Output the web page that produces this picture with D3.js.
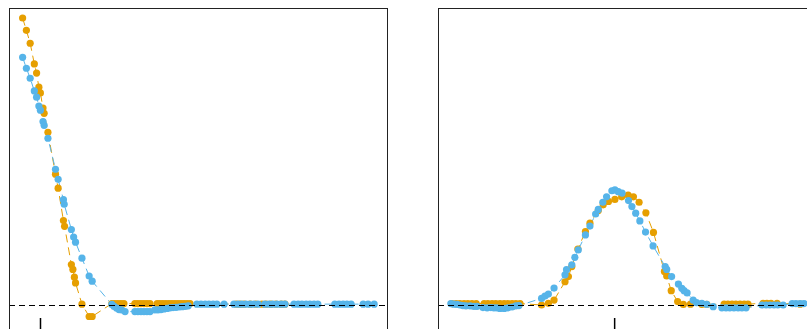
<!DOCTYPE html>
<html><head><meta charset="utf-8">
<script src="https://cdn.jsdelivr.net/npm/d3@7"></script>
<style>html,body{margin:0;padding:0;background:#fff;}svg{display:block;}</style>
</head><body>
<script>
// Panel 1 (decay) data: [x, y]
const panel1Orange = [
 [3.6,100],[4.6,95.7],[5.6,91.2],[6.7,84],[7.3,80.8],[7.9,75.9],[8.3,73.9],[9.0,68.6],[9.3,66.8],
 [10.3,60.2],[12.3,45.6],[13.0,40.7],[14.4,29.4],[14.7,27.4],[16.5,14.1],[16.9,12.4],[17.3,9.7],[17.6,7.7],
 [19.3,0.3],[21.2,-4.0],[22.0,-4.0],
 [27.2,0.5],[28.0,0.5],[28.8,0.5],[29.6,0.5],[30.4,0.5],
 [33.3,0.5],[34.1,0.5],[34.9,0.5],[35.7,0.5],[36.5,0.5],[37.3,0.5],
 [39.2,0.5],[39.9,0.5],[40.7,0.5],[41.5,0.5],[42.3,0.5],[43.1,0.5],[43.9,0.5],[44.7,0.5],[45.5,0.5],[46.3,0.5],[47.1,0.5],[47.9,0.5],
 [60.1,0.3],[61.1,0.3],[62.2,0.3],[63.8,0.3],[65.3,0.3],[66.9,0.3],[68.0,0.3],[69.3,0.3],[70.6,0.3],[72.0,0.3],[73.0,0.3]
];
const panel1Blue = [
 [3.6,86.3],[4.6,82.5],[5.6,79.0],[6.7,74.6],[7.3,72.4],[7.9,69.3],[8.3,67.9],[9.0,63.9],[9.3,62.6],
 [10.3,58.1],[12.3,47.3],[13.0,43.8],[14.4,36.7],[14.6,35.1],[16.5,26.3],[17.1,23.7],[17.6,21.9],[19.3,16.3],
 [21.2,10.1],[22.0,8.3],
 [27.2,0.2],[27.8,-0.5],[28.5,-1.1],[29.1,-1.6],[29.8,-1.7],[30.7,-2.3],
 [33.3,-2.3],[34.1,-2.3],[34.9,-2.3],[35.7,-2.3],[36.5,-2.3],[37.3,-2.3],
 [38.6,-1.7],[39.4,-1.7],[40.2,-1.6],[41.0,-1.4],[41.8,-1.2],[42.6,-1.0],[43.4,-0.9],[44.2,-0.8],[45.0,-0.7],[45.8,-0.6],[46.6,-0.5],[47.4,-0.3],
 [49.7,0.3],[50.8,0.3],[51.9,0.3],[52.9,0.3],[54.0,0.3],[55.0,0.3],[56.9,0.3],
 [59.5,0.3],[60.6,0.3],[61.6,0.3],[62.7,0.3],[63.8,0.3],[64.8,0.3],[65.9,0.3],
 [67.7,0.3],[68.8,0.3],[69.8,0.3],[70.9,0.3],[72.0,0.3],[73.0,0.3],
 [75.4,0.3],[76.5,0.3],[77.5,0.3],[78.6,0.3],[79.6,0.3],[80.7,0.3],[81.7,0.3],
 [86.2,0.3],[87.3,0.3],[88.4,0.3],[89.4,0.3],[90.5,0.3],
 [93.7,0.3],[95.0,0.3],[96.6,0.3]
];
// Panel 2 (bump) data: [x, y]
const panel2Orange = [
 [3.7,0.5],[4.8,0.5],[5.8,0.5],[6.9,0.5],[7.9,0.5],[9.0,0.5],[10.1,0.5],
 [12.2,0.5],[13.2,0.5],[14.3,0.5],[15.3,0.5],[16.4,0.5],[17.5,0.5],[18.5,0.5],[19.6,0.5],[20.6,0.5],[21.7,0.5],
 [27.4,0],[29.2,0.6],[30.7,1.7],[33.6,8.1],[34.5,9.9],[35.4,13.4],[37.0,19.5],[39.0,25.6],[40.2,28.5],
 [42.4,32.9],[43.7,34.9],[45.1,36.1],[46.8,36.8],[48.6,37.7],[50.3,38.3],[51.7,37.7],[53.2,35.8],[55.0,32.1],
 [57.0,25.3],[59.9,11.7],[60.5,10.1],[61.7,5.0],[63.4,1.2],[64.9,0.2],[66.8,0.3],[69.8,0.2],[71.1,0.2],
 [75.7,0.3],[76.7,0.3],[77.8,0.3],[78.8,0.3],[79.9,0.3],[81.0,0.3],[82.0,0.3],
 [86.0,0.6],[87.0,0.6],[88.1,0.6],[89.7,0.6],[95.8,0.3]
];
const panel2Blue = [
 [3.4,0.5],[4.2,0.3],[5.0,0.2],[5.8,0],[6.6,-0.2],[7.4,-0.3],[8.5,-0.3],[9.5,-0.5],[10.3,-0.5],
 [11.9,-0.9],[13.0,-1.0],[14.0,-0.9],[14.8,-1.0],[15.6,-1.0],[16.4,-1.2],[17.5,-1.2],[18.5,-1.0],[19.6,-0.7],[20.6,-0.3],[21.4,-0.2],
 [27.4,2.3],[28.3,3.1],[29.2,3.8],[30.7,5.9],[33.6,10.5],[34.0,12.3],[35.4,14.0],[36.2,16.6],[37.1,19.2],
 [39.0,24.4],[40.2,27.5],[41.7,31.7],[42.4,33.3],[43.6,35.8],[44.6,37.7],[46.0,39.8],[46.8,40.1],[47.7,39.5],
 [48.7,39.0],[50.4,36.4],[51.3,34.3],[52.3,32.0],[53.4,29.3],[54.9,25.4],[56.9,20.6],[60.1,13.4],[60.5,12.4],
 [61.8,9.9],[63.6,7.3],[64.5,5.8],[65.1,5.0],[65.9,4.2],[67.5,1.7],[68.4,0.8],[69.8,0.6],[71.1,0.2],[72.8,-0.6],
 [75.1,-1.0],[76.2,-1.0],[77.2,-1.0],[78.3,-1.0],[79.4,-1.0],[80.4,-1.0],[81.5,-1.0],
 [85.7,0],[86.8,0],[87.8,0],[88.9,0],[89.9,0],[91.3,0],
 [93.7,0.5],[94.7,0.5],[95.8,0.5],[96.8,0.5]
];
const panelTicks = [8.2, 46.6];

const W = 807, H = 329;
const colors = {orange: "#E69F00", blue: "#56B4E9"};
const panels = [
  {left: 9, orange: panel1Orange, blue: panel1Blue, tick: panelTicks[0]},
  {left: 438, orange: panel2Orange, blue: panel2Blue, tick: panelTicks[1]}
];
const pw = 378, panelTop = 8;

const svg = d3.select("body").append("svg").attr("width", W).attr("height", H);
svg.append("rect").attr("width", W).attr("height", H).attr("fill", "#fff");

panels.forEach((p, i) => {
  const x = d3.scaleLinear().domain([0, 100]).range([p.left, p.left + pw]);
  const y = d3.scaleLinear().domain([0, 100]).range([305, 18]);
  const g = svg.append("g");
  const clipId = "clip" + i;
  g.append("clipPath").attr("id", clipId).append("rect")
    .attr("x", p.left).attr("y", panelTop).attr("width", pw).attr("height", 400);
  const inner = g.append("g").attr("clip-path", `url(#${clipId})`);

  const line = d3.line().x(d => x(d[0])).y(d => y(d[1]));
  ["orange", "blue"].forEach(k => {
    inner.append("path").datum(p[k]).attr("d", line).attr("fill", "none")
      .attr("stroke", colors[k]).attr("stroke-width", 1).attr("stroke-dasharray", "8,5");
  });
  ["orange", "blue"].forEach(k => {
    inner.append("g").selectAll("circle").data(p[k]).join("circle")
      .attr("cx", d => x(d[0])).attr("cy", d => y(d[1])).attr("r", 3.6)
      .attr("fill", colors[k]);
  });

  // zero reference line, drawn over the points
  inner.append("line").attr("x1", p.left).attr("x2", p.left + pw)
    .attr("y1", y(0) + 0.5).attr("y2", y(0) + 0.5)
    .attr("stroke", "#000").attr("stroke-width", 1).attr("stroke-dasharray", "6,4");

  g.append("rect").attr("x", p.left + 0.5).attr("y", panelTop + 0.5).attr("width", pw).attr("height", 400)
    .attr("fill", "none").attr("stroke", "#222").attr("stroke-width", 1);

  const axis = d3.axisBottom(x).tickValues([p.tick]).tickSize(12).tickFormat("");
  const ag = g.append("g").attr("transform", `translate(0,318)`).call(axis);
  ag.select(".domain").remove();
  ag.selectAll("line").attr("stroke", "#000").attr("stroke-width", 1.5);
});
</script>
</body></html>
